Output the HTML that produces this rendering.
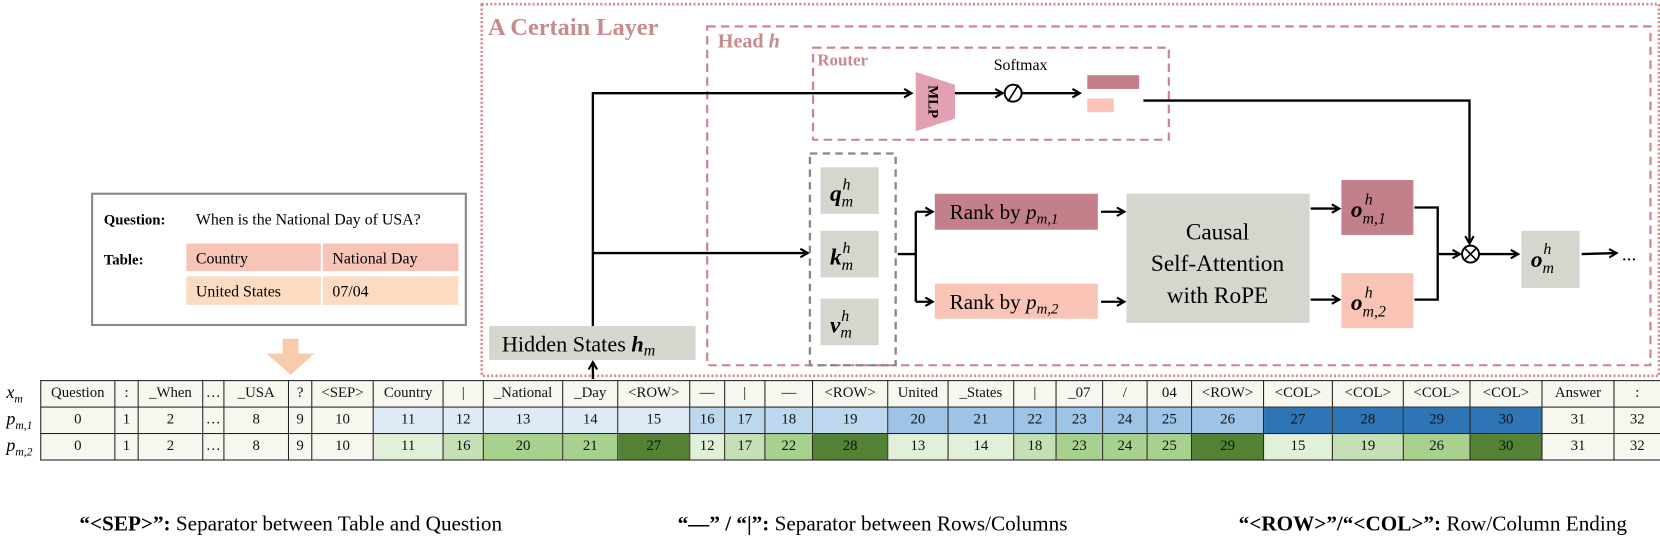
<!DOCTYPE html>
<html><head><meta charset="utf-8">
<style>
body{margin:0;width:1660px;height:515px;background:#fff;position:relative;overflow:hidden;font-family:"Liberation Serif",serif;}
#w{position:absolute;left:0;top:0;width:1568px;height:487px;transform:scale(1.0587);transform-origin:0 0;}
.abs{position:absolute;}
table.t{position:absolute;left:38px;top:359px;border-collapse:collapse;table-layout:fixed;width:1530px;font-family:"Liberation Serif",serif;font-size:14px;}
table.t td{border:1.5px solid #222;text-align:center;padding:0;height:24px;background:#f7f7ef;color:#111;white-space:nowrap;overflow:hidden;}
.a{background:#deebf7!important}.b{background:#bdd7ee!important}.c{background:#9dc3e6!important}.d{background:#2e75b6!important}
.g0{background:#e2efd9!important}.g1{background:#c5e0b4!important}.g2{background:#a9d18e!important}.g3{background:#548235!important}
.lbl{position:absolute;left:6px;font-style:italic;font-size:17px;}
.cap{position:absolute;top:484px;font-size:20px;white-space:nowrap;}
</style></head><body>
<div id="w">
<svg class="abs" style="left:0;top:0" width="1568" height="487" xmlns="http://www.w3.org/2000/svg">
<defs><marker id="ar" markerWidth="10" markerHeight="10" refX="8" refY="5" orient="auto" markerUnits="userSpaceOnUse"><path d="M1,1 L8,5 L1,9" fill="none" stroke="#000" stroke-width="2"/></marker></defs>
<rect x="455" y="4" width="1112" height="351" fill="none" stroke="#d48c92" stroke-width="2.5" stroke-dasharray="2,2"/>
<text x="461" y="33" font-family="Liberation Serif" font-weight="bold" font-size="23" fill="#c98a8e">A Certain Layer</text>
<rect x="668" y="25" width="891" height="320" fill="none" stroke="#d08088" stroke-width="2" stroke-dasharray="8,5"/>
<text x="678" y="45" font-family="Liberation Serif" font-weight="bold" font-size="19" fill="#c98a8e">Head <tspan font-style="italic">h</tspan></text>
<rect x="768" y="45" width="336" height="87" fill="none" stroke="#d08088" stroke-width="2" stroke-dasharray="8,5"/>
<text x="772" y="62" font-family="Liberation Serif" font-weight="bold" font-size="16" fill="#c98a8e">Router</text>
<polygon points="865,68 902,80 902,112 865,124" fill="#e2a0b2"/>
<text x="0" y="0" transform="translate(877,96) rotate(90)" text-anchor="middle" font-family="Liberation Serif" font-weight="bold" font-size="14">MLP</text>
<text x="964" y="66" text-anchor="middle" font-family="Liberation Serif" font-size="15">Softmax</text>
<circle cx="957" cy="88" r="8" fill="#fff" stroke="#000" stroke-width="1.8"/>
<line x1="952" y1="96" x2="962" y2="80" stroke="#000" stroke-width="1.5"/>
<rect x="1027" y="71" width="49" height="13" fill="#c4808a"/>
<rect x="1027" y="93" width="25" height="13" fill="#f9c4b6"/>
<g stroke="#000" stroke-width="2.2" fill="none">
<polyline points="560,308 560,88 861,88" marker-end="url(#ar)"/>
<line x1="902" y1="88" x2="947" y2="88" marker-end="url(#ar)"/>
<line x1="965" y1="88" x2="1020" y2="88" marker-end="url(#ar)"/>
<polyline points="1080,95 1388,95 1388,230" marker-end="url(#ar)"/>
<line x1="560" y1="239" x2="763" y2="239" marker-end="url(#ar)"/>
<line x1="560" y1="358" x2="560" y2="342" marker-end="url(#ar)"/>
<line x1="848" y1="240" x2="865" y2="240"/>
<polyline points="865,200 865,285"/>
<line x1="865" y1="200" x2="881" y2="200" marker-end="url(#ar)"/>
<line x1="865" y1="285" x2="881" y2="285" marker-end="url(#ar)"/>
<line x1="1040" y1="200" x2="1062" y2="200" marker-end="url(#ar)"/>
<line x1="1040" y1="285" x2="1062" y2="285" marker-end="url(#ar)"/>
<line x1="1238" y1="197" x2="1265" y2="197" marker-end="url(#ar)"/>
<line x1="1238" y1="283" x2="1265" y2="283" marker-end="url(#ar)"/>
<polyline points="1336,196 1358,196 1358,283 1336,283"/>
<line x1="1358" y1="240" x2="1379" y2="240" marker-end="url(#ar)"/>
<line x1="1397" y1="240" x2="1434" y2="240" marker-end="url(#ar)"/>
<line x1="1494" y1="240" x2="1527" y2="239" marker-end="url(#ar)"/>
</g>
<circle cx="1389" cy="240" r="8" fill="#fff" stroke="#000" stroke-width="1.8"/>
<line x1="1383" y1="234" x2="1395" y2="246" stroke="#000" stroke-width="1.5"/>
<line x1="1395" y1="234" x2="1383" y2="246" stroke="#000" stroke-width="1.5"/>
<text x="1532" y="246" font-family="Liberation Serif" font-size="18">...</text>
<rect x="462" y="308" width="195" height="32" fill="#d6d6ce"/>
<text x="474" y="332" font-family="Liberation Serif" font-size="21">Hidden States <tspan font-weight="bold" font-style="italic">h</tspan><tspan font-style="italic" font-size="15" dy="4">m</tspan></text>
<rect x="765" y="145" width="81" height="200" fill="none" stroke="#888" stroke-width="2.2" stroke-dasharray="7,5"/>
<rect x="775" y="158" width="55" height="44" fill="#d6d6ce"/>
<rect x="775" y="218" width="55" height="44" fill="#d6d6ce"/>
<rect x="775" y="282" width="55" height="44" fill="#d6d6ce"/>
<g font-family="Liberation Serif" font-size="22">
<text x="784" y="190"><tspan font-weight="bold" font-style="italic">q</tspan><tspan font-style="italic" font-size="15" dy="5">m</tspan><tspan font-style="italic" font-size="15" dx="-10" dy="-16">h</tspan></text>
<text x="784" y="250"><tspan font-weight="bold" font-style="italic">k</tspan><tspan font-style="italic" font-size="15" dy="5">m</tspan><tspan font-style="italic" font-size="15" dx="-10" dy="-16">h</tspan></text>
<text x="784" y="314"><tspan font-weight="bold" font-style="italic">v</tspan><tspan font-style="italic" font-size="15" dy="5">m</tspan><tspan font-style="italic" font-size="15" dx="-10" dy="-16">h</tspan></text>
</g>
<rect x="883" y="183" width="154" height="34" fill="#c4808a"/>
<rect x="883" y="268" width="154" height="33" fill="#f9c4b6"/>
<text x="897" y="207" font-family="Liberation Serif" font-size="20">Rank by <tspan font-style="italic">p</tspan><tspan font-style="italic" font-size="14" dy="4">m,1</tspan></text>
<text x="897" y="292" font-family="Liberation Serif" font-size="20">Rank by <tspan font-style="italic">p</tspan><tspan font-style="italic" font-size="14" dy="4">m,2</tspan></text>
<rect x="1064" y="183" width="173" height="122" fill="#d6d6ce"/>
<g font-family="Liberation Serif" font-size="22" text-anchor="middle">
<text x="1150" y="226">Causal</text><text x="1150" y="256">Self-Attention</text><text x="1150" y="286">with RoPE</text>
</g>
<rect x="1267" y="170" width="68" height="52" fill="#c4808a"/>
<rect x="1267" y="258" width="68" height="52" fill="#f9c4b6"/>
<rect x="1437" y="218" width="55" height="54" fill="#d6d6ce"/>
<g font-family="Liberation Serif" font-size="22">
<text x="1276" y="205"><tspan font-weight="bold" font-style="italic">o</tspan><tspan font-style="italic" font-size="15" dy="6">m,1</tspan><tspan font-style="italic" font-size="15" dx="-20" dy="-18">h</tspan></text>
<text x="1276" y="293"><tspan font-weight="bold" font-style="italic">o</tspan><tspan font-style="italic" font-size="15" dy="6">m,2</tspan><tspan font-style="italic" font-size="15" dx="-20" dy="-18">h</tspan></text>
<text x="1446" y="252"><tspan font-weight="bold" font-style="italic">o</tspan><tspan font-style="italic" font-size="15" dy="6">m</tspan><tspan font-style="italic" font-size="15" dx="-10" dy="-18">h</tspan></text>
</g>
<rect x="87" y="183" width="353" height="124" fill="#fff" stroke="#888" stroke-width="2"/>
<text x="98" y="212" font-family="Liberation Serif" font-weight="bold" font-size="14">Question:</text>
<text x="185" y="212" font-family="Liberation Serif" font-size="15">When is the National Day of USA?</text>
<text x="98" y="250" font-family="Liberation Serif" font-weight="bold" font-size="14">Table:</text>
<rect x="176" y="230" width="127" height="26" fill="#f8c4b8"/>
<rect x="305" y="230" width="128" height="26" fill="#f8c4b8"/>
<rect x="176" y="261" width="127" height="27" fill="#fbdcc2"/>
<rect x="305" y="261" width="128" height="27" fill="#fbdcc2"/>
<g font-family="Liberation Serif" font-size="15"><text x="185" y="249">Country</text><text x="314" y="249">National Day</text><text x="185" y="280">United States</text><text x="314" y="280">07/04</text></g>
<rect x="267" y="320" width="15" height="20" fill="#f9cbad"/>
<polygon points="252,334 297,334 274.5,354" fill="#f9cbad"/>
</svg>
<div class="lbl" style="top:361px">x<sub style="font-size:11px">m</sub></div>
<div class="lbl" style="top:386px">p<sub style="font-size:11px">m,1</sub></div>
<div class="lbl" style="top:411px">p<sub style="font-size:11px">m,2</sub></div>
<table class="t">
<colgroup><col style="width:70px"><col style="width:22px"><col style="width:61px"><col style="width:20px"><col style="width:61px"><col style="width:22px"><col style="width:58px"><col style="width:66px"><col style="width:38px"><col style="width:75px"><col style="width:52px"><col style="width:68px"><col style="width:33px"><col style="width:38px"><col style="width:45px"><col style="width:71px"><col style="width:57px"><col style="width:62px"><col style="width:40px"><col style="width:44px"><col style="width:42px"><col style="width:42px"><col style="width:68px"><col style="width:65px"><col style="width:67px"><col style="width:63px"><col style="width:68px"><col style="width:68px"><col style="width:44px"></colgroup>
<tr><td>Question</td><td>:</td><td>_When</td><td>…</td><td>_USA</td><td>?</td><td>&lt;SEP&gt;</td><td>Country</td><td>|</td><td>_National</td><td>_Day</td><td>&lt;ROW&gt;</td><td>—</td><td>|</td><td>—</td><td>&lt;ROW&gt;</td><td>United</td><td>_States</td><td>|</td><td>_07</td><td>/</td><td>04</td><td>&lt;ROW&gt;</td><td>&lt;COL&gt;</td><td>&lt;COL&gt;</td><td>&lt;COL&gt;</td><td>&lt;COL&gt;</td><td>Answer</td><td>:</td></tr>
<tr><td>0</td><td>1</td><td>2</td><td>…</td><td>8</td><td>9</td><td>10</td><td class="a">11</td><td class="a">12</td><td class="a">13</td><td class="a">14</td><td class="a">15</td><td class="b">16</td><td class="b">17</td><td class="b">18</td><td class="b">19</td><td class="c">20</td><td class="c">21</td><td class="c">22</td><td class="c">23</td><td class="c">24</td><td class="c">25</td><td class="c">26</td><td class="d">27</td><td class="d">28</td><td class="d">29</td><td class="d">30</td><td>31</td><td>32</td></tr>
<tr><td>0</td><td>1</td><td>2</td><td>…</td><td>8</td><td>9</td><td>10</td><td class="g0">11</td><td class="g1">16</td><td class="g2">20</td><td class="g2">21</td><td class="g3">27</td><td class="g0">12</td><td class="g1">17</td><td class="g2">22</td><td class="g3">28</td><td class="g0">13</td><td class="g0">14</td><td class="g1">18</td><td class="g2">23</td><td class="g2">24</td><td class="g2">25</td><td class="g3">29</td><td class="g0">15</td><td class="g1">19</td><td class="g2">26</td><td class="g3">30</td><td>31</td><td>32</td></tr>
</table>
<div class="cap" style="left:75px"><b>“&lt;SEP&gt;”:</b> Separator between Table and Question</div>
<div class="cap" style="left:640px"><b>“—” / “|”:</b> Separator between Rows/Columns</div>
<div class="cap" style="left:1170px"><b>“&lt;ROW&gt;”/“&lt;COL&gt;”:</b> Row/Column Ending</div>
</div>
</body></html>
